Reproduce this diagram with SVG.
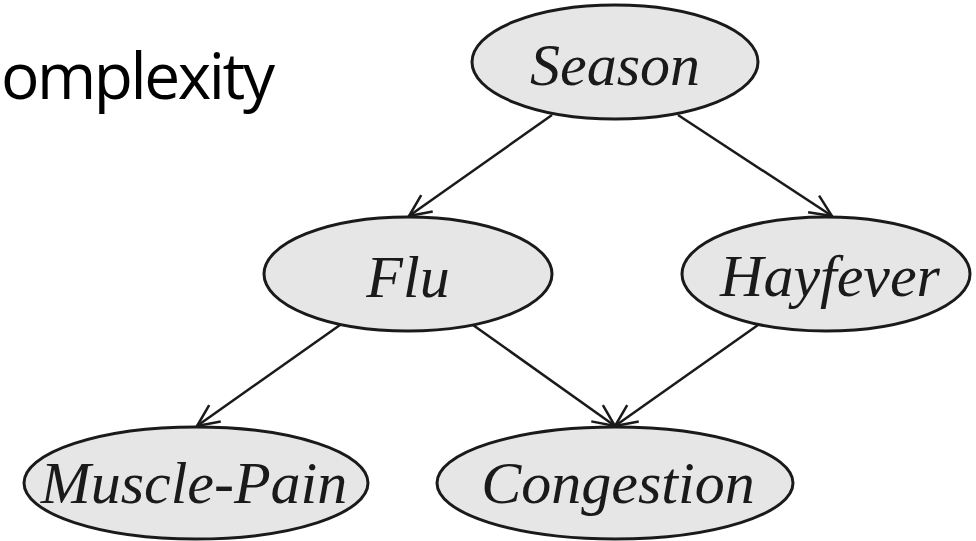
<svg xmlns="http://www.w3.org/2000/svg" width="976" height="541" viewBox="0 0 976 541">
  <style>
    .node ellipse { fill: #e6e6e6; stroke: #1a1a1a; stroke-width: 3; }
    .node text { font-family: "Liberation Serif", "Times New Roman", serif; font-style: italic; font-size: 60px; fill: #1a1a1a; text-anchor: middle; }
    .edge { stroke: #1a1a1a; stroke-width: 2.5; fill: none; marker-end: url(#arr); }
    .title { font-family: "Open Sans", "Liberation Sans", sans-serif; font-size: 64px; fill: #000; }
  </style>
  <defs>
    <marker id="arr" markerUnits="userSpaceOnUse" markerWidth="40" markerHeight="40" refX="0" refY="0" orient="auto" overflow="visible">
      <path d="M-22,-10 L0,0 L-22,10" fill="none" stroke="#1a1a1a" stroke-width="2.5" stroke-linejoin="miter"/>
    </marker>
  </defs>
  <rect width="976" height="541" fill="#ffffff"/>
  <text class="title" x="1" y="99" textLength="274">omplexity</text>
  <g id="connectors">
    <line class="edge" x1="552" y1="115" x2="409" y2="216"/>
    <line class="edge" x1="678" y1="115" x2="832" y2="216"/>
    <line class="edge" x1="340" y1="325" x2="197" y2="426"/>
    <line class="edge" x1="473" y1="325" x2="615" y2="426"/>
    <line class="edge" x1="758" y1="325" x2="615" y2="426"/>
  </g>
  <g id="season" class="node">
    <ellipse cx="615" cy="62" rx="143" ry="57"/>
    <text x="615" y="85">Season</text>
  </g>
  <g id="flu" class="node">
    <ellipse cx="408" cy="274" rx="144" ry="57"/>
    <text x="408" y="297">Flu</text>
  </g>
  <g id="hayfever" class="node">
    <ellipse cx="826" cy="274" rx="144" ry="57"/>
    <text x="830" y="296">Hayfever</text>
  </g>
  <g id="muscle-pain" class="node">
    <ellipse cx="196" cy="483" rx="172" ry="56"/>
    <text x="194" y="503">Muscle-Pain</text>
  </g>
  <g id="congestion" class="node">
    <ellipse cx="615" cy="483" rx="178" ry="56"/>
    <text x="618" y="503">Congestion</text>
  </g>
</svg>
